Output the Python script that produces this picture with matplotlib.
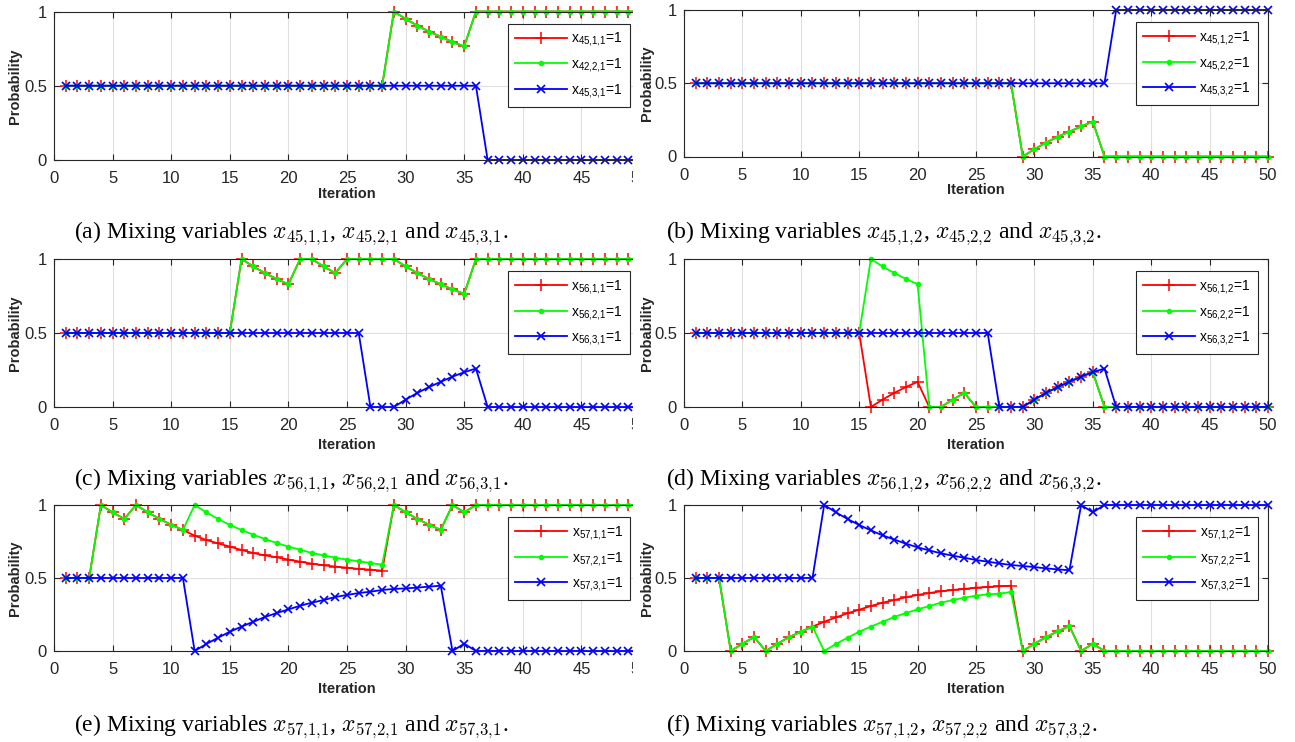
import matplotlib
matplotlib.use("Agg")
import matplotlib.pyplot as plt
from matplotlib.patches import Rectangle

plt.rcParams['font.family'] = ['Liberation Sans', 'DejaVu Sans']
plt.rcParams['mathtext.fontset'] = 'cm'

iterations = list(range(1, 51))

# ---- (a) ----
a_red = [0.5]*28 + [1.0, 0.95, 0.905, 0.865, 0.83, 0.795, 0.765] + [1.0]*15
a_green = [0.5]*28 + [1.0, 0.95, 0.905, 0.865, 0.83, 0.795, 0.765] + [1.0]*15
a_blue = [0.5]*36 + [0.0]*14
# ---- (b) ----
b_red = [0.5]*28 + [0.0, 0.05, 0.095, 0.135, 0.17, 0.205, 0.238] + [0.0]*15
b_green = [0.5]*28 + [0.0, 0.05, 0.095, 0.135, 0.17, 0.205, 0.238] + [0.0]*15
b_blue = [0.5]*36 + [1.0]*14
# ---- (c) ----
c_red = ([0.5]*15 + [1.0, 0.95, 0.905, 0.865, 0.83, 1.0, 1.0, 0.95, 0.905]
         + [1.0]*5 + [0.95, 0.905, 0.865, 0.83, 0.795, 0.765] + [1.0]*15)
c_green = ([0.5]*15 + [1.0, 0.95, 0.905, 0.865, 0.83, 1.0, 1.0, 0.95, 0.905]
           + [1.0]*5 + [0.95, 0.905, 0.865, 0.83, 0.795, 0.765] + [1.0]*15)
c_blue = ([0.5]*26 + [0.0, 0.0, 0.0, 0.05, 0.095, 0.135, 0.17, 0.205, 0.235, 0.26]
          + [0.0]*14)
# ---- (d) ----
d_red = ([0.5]*15 + [0.0, 0.05, 0.095, 0.135, 0.17, 0.0, 0.0, 0.05, 0.095]
         + [0.0]*5 + [0.05, 0.095, 0.135, 0.17, 0.205, 0.235] + [0.0]*15)
d_green = ([0.5]*15 + [1.0, 0.95, 0.905, 0.865, 0.83, 0.0, 0.0, 0.05, 0.095]
           + [0.0]*5 + [0.05, 0.095, 0.135, 0.17, 0.205, 0.235] + [0.0]*15)
d_blue = ([0.5]*26 + [0.0, 0.0, 0.0, 0.05, 0.095, 0.135, 0.17, 0.205, 0.235, 0.26]
          + [0.0]*14)
# ---- (e) ----
e_red = ([0.5, 0.5, 0.5, 1.0, 0.95, 0.905, 1.0, 0.95, 0.905, 0.865, 0.829,
          0.79, 0.76, 0.737, 0.715, 0.692, 0.671, 0.655, 0.642, 0.626, 0.612,
          0.598, 0.587, 0.578, 0.571, 0.562, 0.557, 0.55,
          1.0, 0.95, 0.905, 0.865, 0.83, 1.0, 0.95] + [1.0]*15)
e_green = ([0.5, 0.5, 0.5, 1.0, 0.95, 0.905, 1.0, 0.95, 0.905, 0.865, 0.829,
            1.0, 0.95, 0.904, 0.863, 0.829, 0.797, 0.767, 0.74, 0.715, 0.694,
            0.671, 0.655, 0.639, 0.626, 0.614, 0.603, 0.591,
            1.0, 0.95, 0.905, 0.865, 0.83, 1.0, 0.95] + [1.0]*15)
e_blue = ([0.5]*11 + [0.0, 0.048, 0.091, 0.132, 0.167, 0.2, 0.233, 0.26, 0.285,
                      0.31, 0.331, 0.349, 0.37, 0.384, 0.397, 0.406, 0.418,
                      0.425, 0.429, 0.434, 0.441, 0.447, 0.0, 0.05] + [0.0]*15)
# ---- (f) ----
f_red = ([0.5, 0.5, 0.5, 0.0, 0.05, 0.095, 0.0, 0.05, 0.095, 0.132, 0.167,
          0.2, 0.23, 0.258, 0.283, 0.308, 0.331, 0.349, 0.368, 0.384, 0.397,
          0.409, 0.418, 0.425, 0.434, 0.438, 0.443, 0.447,
          0.0, 0.05, 0.095, 0.135, 0.171, 0.0, 0.05] + [0.0]*15)
f_green = ([0.5, 0.5, 0.5, 0.0, 0.05, 0.095, 0.0, 0.05, 0.095, 0.132, 0.167,
            0.0, 0.048, 0.091, 0.132, 0.167, 0.2, 0.233, 0.26, 0.285, 0.308,
            0.331, 0.349, 0.365, 0.379, 0.388, 0.393, 0.404,
            0.0, 0.05, 0.095, 0.135, 0.171, 0.0, 0.05] + [0.0]*15)
f_blue = ([0.5]*11 + [1.0, 0.95, 0.904, 0.863, 0.826, 0.792, 0.763, 0.735, 0.71,
                      0.689, 0.669, 0.653, 0.639, 0.623, 0.612, 0.6, 0.589,
                      0.582, 0.575, 0.566, 0.559, 0.553, 1.0, 0.95] + [1.0]*15)

panels = [
    ("a", a_red, a_green, a_blue, ["45,1,1", "42,2,1", "45,3,1"], ["45,1,1", "45,2,1", "45,3,1"]),
    ("b", b_red, b_green, b_blue, ["45,1,2", "45,2,2", "45,3,2"], ["45,1,2", "45,2,2", "45,3,2"]),
    ("c", c_red, c_green, c_blue, ["56,1,1", "56,2,1", "56,3,1"], ["56,1,1", "56,2,1", "56,3,1"]),
    ("d", d_red, d_green, d_blue, ["56,1,2", "56,2,2", "56,3,2"], ["56,1,2", "56,2,2", "56,3,2"]),
    ("e", e_red, e_green, e_blue, ["57,1,1", "57,2,1", "57,3,1"], ["57,1,1", "57,2,1", "57,3,1"]),
    ("f", f_red, f_green, f_blue, ["57,1,2", "57,2,2", "57,3,2"], ["57,1,2", "57,2,2", "57,3,2"]),
]


def sub(s):
    return s.replace(",", "{,}")


W, H = 1295, 742
fig = plt.figure(figsize=(W/100, H/100), dpi=100)

cols = [(54, 640), (684, 1268)]
rows = [[(11.5, 160), (10, 156.5)], [(259, 407), (259, 407)], [(505, 651), (505, 651)]]
xlabel_off = [27, 31, 31]
caption_y = [233, 480, 726]
caption_x = [74, 666]
dark = (0.15, 0.15, 0.15)

for i, (tag, r, g, b, leg, cap) in enumerate(panels):
    row, col = divmod(i, 2)
    l, rr = cols[col]
    t, bt = rows[row][col]
    ax = fig.add_axes([l/W, 1-bt/H, (rr-l)/W, (bt-t)/H], zorder=col*2)
    ax.plot(iterations, r, color=(1, 0, 0), lw=1.3, marker='+', ms=8, mew=1.1,
            clip_on=False, label=r'$\mathregular{x_{%s}}$=1' % sub(leg[0]))
    ax.plot(iterations, g, color=(0, 1, 0), lw=1.3, marker='.', ms=6,
            clip_on=False, label=r'$\mathregular{x_{%s}}$=1' % sub(leg[1]))
    ax.plot(iterations, b, color=(0, 0, 1), lw=1.3, marker='x', ms=6, mew=1.2,
            clip_on=False, label=r'$\mathregular{x_{%s}}$=1' % sub(leg[2]))
    ax.set_xlim(0, 50)
    ax.set_ylim(0, 1)
    ax.set_xticks(range(0, 51, 5))
    ax.set_yticks([0, 0.5, 1])
    ax.set_yticklabels(['0', '0.5', '1'])
    ax.grid(True, color=(0.88, 0.88, 0.88), lw=0.8)
    ax.set_axisbelow(True)
    ax.tick_params(direction='in', top=True, right=True, length=4, width=0.8,
                   colors=dark, labelcolor=dark, labelsize=12)
    ax.tick_params(axis='x', pad=8)
    ax.tick_params(axis='y', pad=5)
    for s in ax.spines.values():
        s.set_color(dark)
        s.set_linewidth(0.8)
    ax.set_ylabel('Probability', fontsize=10.5, fontweight='bold', color=dark)
    ax.set_xlabel('Iteration', fontsize=10.5, fontweight='bold', color=dark)
    aw, ah = rr - l, bt - t
    ax.yaxis.set_label_coords(-(32 if col == 0 else 30)/aw, 0.5)
    ax.xaxis.set_label_coords(0.5, -xlabel_off[row]/ah)
    lg = ax.legend(loc='upper right', bbox_to_anchor=(1 - 10/aw, 1 - 12/ah),
                   borderaxespad=0, fontsize=10, handlelength=3.8,
                   fancybox=False, framealpha=1, edgecolor=dark,
                   labelspacing=0.55, borderpad=0.5, handletextpad=0.3)
    lg.get_frame().set_linewidth(0.8)
    fig.text(caption_x[col]/W, 1-caption_y[row]/H,
             r'(%s) Mixing variables $x_{%s}$, $x_{%s}$ and $x_{%s}$.'
             % (tag, sub(cap[0]), sub(cap[1]), sub(cap[2])),
             fontsize=17, family='Liberation Serif', va='center', ha='left')

# the left images are cropped on their right side
fig.patches.append(Rectangle((633/W, 0), 30/W, 1, transform=fig.transFigure,
                             facecolor='white', edgecolor='none', zorder=1))

fig.savefig('out.png', dpi=100)
